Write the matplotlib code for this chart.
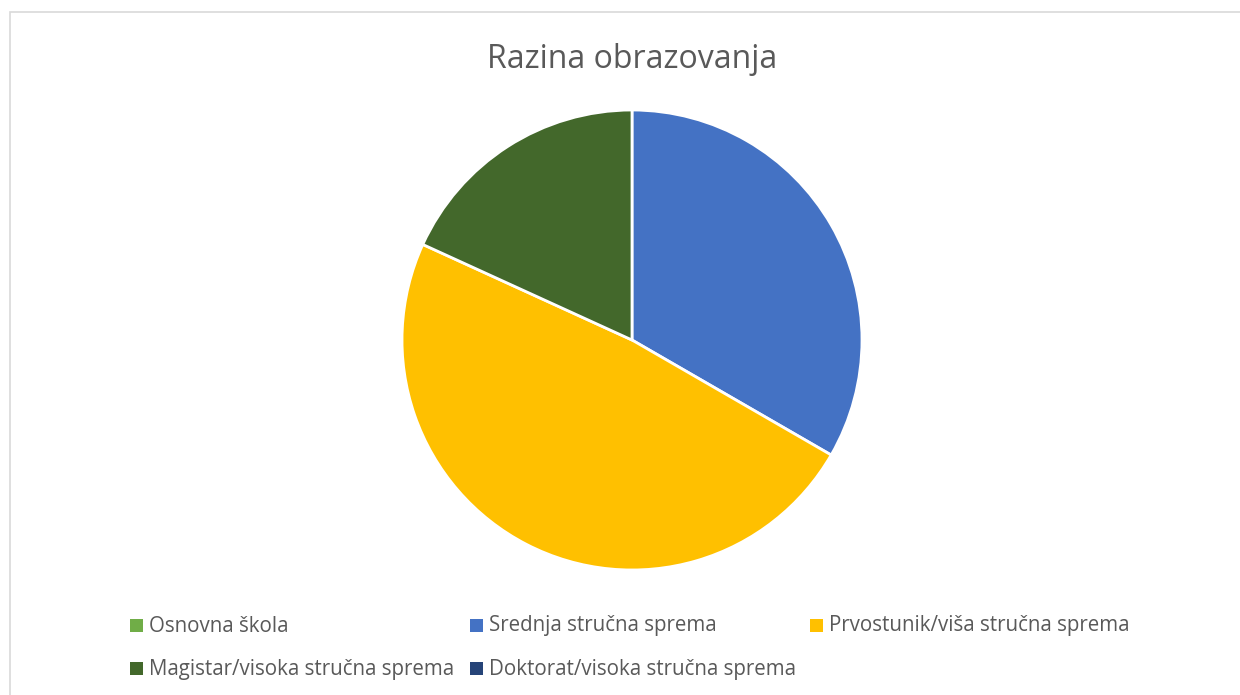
import matplotlib
matplotlib.use("Agg")
import matplotlib.pyplot as plt
from matplotlib.patches import Rectangle

categories = ["Osnovna škola", "Srednja stručna sprema", "Prvostunik/viša stručna sprema",
              "Magistar/visoka stručna sprema", "Doktorat/visoka stručna sprema"]
values = [0, 11, 16, 6, 0]
colors = ["#70AD47", "#4472C4", "#FFC000", "#43682B", "#264478"]
title = "Razina obrazovanja"

W, H = 1240, 695
fig = plt.figure(figsize=(W / 100, H / 100), dpi=100)
fig.patch.set_facecolor("white")

# chart border
fig.add_artist(Rectangle((10 / W, -0.01), 1.2, 1 - 12 / H + 0.01, transform=fig.transFigure,
                         fill=False, edgecolor="#D9D9D9", linewidth=1.2))

cx, cy, r = 632, 340, 230
ax = fig.add_axes([(cx - r) / W, (H - cy - r) / H, 2 * r / W, 2 * r / H])
nz = [(v, c) for v, c in zip(values, colors) if v > 0]
ax.pie([v for v, c in nz], colors=[c for v, c in nz], startangle=90, counterclock=False,
       radius=1, wedgeprops=dict(edgecolor="white", linewidth=2))
ax.set_xlim(-1.0, 1.0)
ax.set_ylim(-1.0, 1.0)
ax.set_aspect("equal")
ax.axis("off")

fig.text(cx / W, 1 - 59 / H, title, ha="center", va="center", fontsize=23,
         color="#595959", family="Open Sans")

# legend
for i, (cat, col) in enumerate(zip(categories, colors)):
    x0 = 130 + (i % 3) * 340
    y0 = 626 + (i // 3) * 43
    fig.add_artist(Rectangle((x0 / W, 1 - (y0 + 6) / H), 13 / W, 13 / H,
                             transform=fig.transFigure, facecolor=col, edgecolor="none"))
    fig.text((x0 + 19) / W, 1 - y0 / H, cat, ha="left", va="center", fontsize=14.8,
             color="#595959", family="Open Sans")

fig.savefig("out.png", dpi=100)
